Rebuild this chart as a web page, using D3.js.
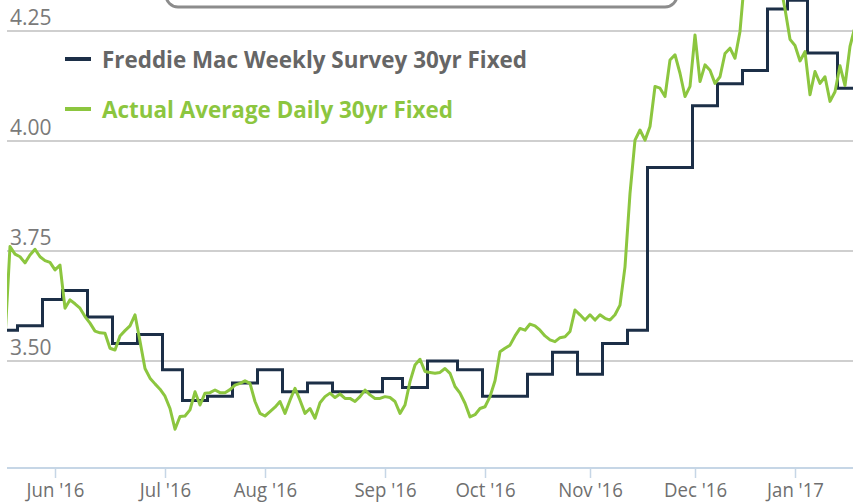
<!DOCTYPE html>
<html>
<head>
<meta charset="utf-8">
<script src="https://cdn.jsdelivr.net/npm/d3@7"></script>
<style>
  html, body { margin: 0; padding: 0; background: #ffffff; }
  svg { display: block; }
  text { font-family: "Open Sans", "DejaVu Sans", sans-serif; }
</style>
</head>
<body>
<svg id="chart" width="853" height="504"></svg>
<script>
// ---------------- DATA ----------------
// Actual average daily 30yr fixed rate, one value per trading day (index 0 = mid May 2016)
const dailyRates = [
  3.55, 3.76, 3.743, 3.737, 3.723, 3.741, 3.754, 3.737, 3.728, 3.724,
  3.707, 3.718, 3.620, 3.639, 3.630, 3.620, 3.601, 3.586, 3.568, 3.564,
  3.563, 3.529, 3.525, 3.557, 3.569, 3.580, 3.605, 3.545, 3.483, 3.461,
  3.448, 3.436, 3.420, 3.392, 3.345, 3.374, 3.375, 3.389, 3.430, 3.400,
  3.427, 3.428, 3.434, 3.428, 3.428, 3.435, 3.445, 3.449, 3.455, 3.449,
  3.408, 3.381, 3.375, 3.385, 3.395, 3.408, 3.381, 3.411, 3.438, 3.411,
  3.381, 3.392, 3.370, 3.405, 3.419, 3.427, 3.417, 3.425, 3.415, 3.415,
  3.408, 3.419, 3.434, 3.423, 3.415, 3.415, 3.419, 3.417, 3.408, 3.381,
  3.400, 3.453, 3.491, 3.504, 3.476, 3.474, 3.472, 3.474, 3.483, 3.472,
  3.442, 3.427, 3.404, 3.373, 3.378, 3.392, 3.396, 3.419, 3.455, 3.521,
  3.529, 3.536, 3.557, 3.574, 3.570, 3.584, 3.580, 3.570, 3.557, 3.548,
  3.544, 3.553, 3.555, 3.567, 3.616, 3.605, 3.593, 3.605, 3.593, 3.605,
  3.597, 3.593, 3.605, 3.627, 3.714, 3.881, 4.002, 4.025, 4.002, 4.033,
  4.124, 4.120, 4.101, 4.184, 4.196, 4.154, 4.101, 4.124, 4.241, 4.135,
  4.173, 4.161, 4.131, 4.146, 4.199, 4.211, 4.188, 4.249, 4.38, 4.40,
  4.42, 4.39, 4.41, 4.40, 4.38, 4.36, 4.30, 4.231, 4.217, 4.182,
  4.203, 4.105, 4.158, 4.131, 4.146, 4.090, 4.112, 4.171, 4.126, 4.215,
  4.26
];

// Freddie Mac weekly survey: trading-day index where each weekly value takes effect
const weeklyStart = [0, 3, 8, 12, 17, 22, 27, 32, 36, 41, 46, 51, 56, 61, 66, 76, 80, 85, 91,
                     96, 105, 110, 115, 120, 125, 129, 138, 143, 148, 153, 157, 161, 167];
const weeklyRates = [3.57, 3.58, 3.64, 3.66, 3.60, 3.54, 3.56, 3.48, 3.41, 3.42, 3.45, 3.48,
                     3.43, 3.45, 3.43, 3.46, 3.44, 3.50, 3.48, 3.42, 3.47, 3.52, 3.47, 3.54,
                     3.57, 3.94, 4.08, 4.13, 4.16, 4.30, 4.32, 4.20, 4.12];

// X axis month ticks (trading-day index) and labels
const tickIndex  = [10, 32, 52, 76, 96, 117, 138, 158];
const tickLabels = ["Jun '16", "Jul '16", "Aug '16", "Sep '16", "Oct '16", "Nov '16", "Dec '16", "Jan '17"];

// Y axis ticks
const yTickValues = [3.50, 3.75, 4.00, 4.25];
const yTickLabels = ["3.50", "3.75", "4.00", "4.25"];

// Series
const seriesNames  = ["Freddie Mac Weekly Survey 30yr Fixed", "Actual Average Daily 30yr Fixed"];
const seriesColors = ["#1c2f47", "#8cc63f"];

// ---------------- LAYOUT ----------------
const W = 853, H = 504;
const plotLeft = 7, plotRight = 853, plotBottom = 468;
const lastIndex = dailyRates.length - 1;

const svg = d3.select("#chart");

const x = d3.scaleLinear().domain([0, 170]).range([5, 855]);
const y = d3.scaleLinear().domain([3.50, 4.25]).range([361, 31]);

// clip
svg.append("defs").append("clipPath").attr("id", "plotClip")
  .append("rect").attr("x", plotLeft).attr("y", -100)
  .attr("width", plotRight - plotLeft + 10).attr("height", plotBottom + 100);

// gridlines
svg.append("g").selectAll("line").data(yTickValues).join("line")
  .attr("x1", plotLeft).attr("x2", plotRight)
  .attr("y1", d => y(d)).attr("y2", d => y(d))
  .attr("stroke", "#cfcfcf").attr("stroke-width", 2);

// y labels
svg.append("g").selectAll("text").data(yTickValues).join("text")
  .attr("x", 10).attr("y", d => y(d) - 6)
  .attr("font-size", 21).attr("fill", "#7a7a7a")
  .text((d, i) => yTickLabels[i]);

// x axis line and ticks
svg.append("line")
  .attr("x1", plotLeft).attr("x2", plotRight)
  .attr("y1", plotBottom).attr("y2", plotBottom)
  .attr("stroke", "#c6d6e6").attr("stroke-width", 2);

const xAxis = d3.axisBottom(x)
  .tickValues(tickIndex)
  .tickFormat((d, i) => tickLabels[i])
  .tickSize(10)
  .tickPadding(5);

const gx = svg.append("g").attr("transform", `translate(0,${plotBottom})`).call(xAxis);
gx.select(".domain").remove();
gx.selectAll(".tick line").attr("stroke", "#c6d6e6").attr("stroke-width", 1.5);
gx.selectAll(".tick text")
  .attr("font-size", 20).attr("fill", "#6f6f6f")
  .attr("font-family", "\"Open Sans\", sans-serif")
  .attr("dy", "0.71em")
  .each(function() {
    const t = d3.select(this);
    const w = this.getComputedTextLength();
    t.attr("textLength", w * 0.93).attr("lengthAdjust", "spacingAndGlyphs");
  });

// title box (partially visible at top)
svg.append("rect")
  .attr("x", 166).attr("y", -40).attr("width", 511).attr("height", 47)
  .attr("rx", 12).attr("ry", 12)
  .attr("fill", "#ffffff").attr("stroke", "#8c8c8c").attr("stroke-width", 3);

// lines
const lines = svg.append("g").attr("clip-path", "url(#plotClip)");

const weeklyPts = weeklyStart.map((s, k) => [s - 0.5, weeklyRates[k]]);
weeklyPts.push([lastIndex + 1, weeklyRates[weeklyRates.length - 1]]);

const stepLine = d3.line()
  .x(d => x(d[0])).y(d => y(d[1]))
  .curve(d3.curveStepAfter);

lines.append("path")
  .datum(weeklyPts)
  .attr("d", stepLine)
  .attr("fill", "none")
  .attr("stroke", seriesColors[0])
  .attr("stroke-width", 3)
  .attr("stroke-linejoin", "miter");

const dailyLine = d3.line()
  .x((d, i) => x(i)).y(d => y(d));

lines.append("path")
  .datum(dailyRates)
  .attr("d", dailyLine)
  .attr("fill", "none")
  .attr("stroke", seriesColors[1])
  .attr("stroke-width", 3)
  .attr("stroke-linejoin", "round");

// legend
const legendY = [59, 109];
const legendW = [425, 351];
const legendTextColors = ["#666666", seriesColors[1]];
const lg = svg.append("g");
seriesNames.forEach((name, i) => {
  lg.append("line")
    .attr("x1", 65).attr("x2", 91)
    .attr("y1", legendY[i]).attr("y2", legendY[i])
    .attr("stroke", seriesColors[i]).attr("stroke-width", 4);
  lg.append("text")
    .attr("x", 102).attr("y", legendY[i] + 9)
    .attr("font-size", 24).attr("font-weight", "bold")
    .attr("fill", legendTextColors[i])
    .attr("textLength", legendW[i]).attr("lengthAdjust", "spacingAndGlyphs")
    .text(name);
});
</script>
</body>
</html>
